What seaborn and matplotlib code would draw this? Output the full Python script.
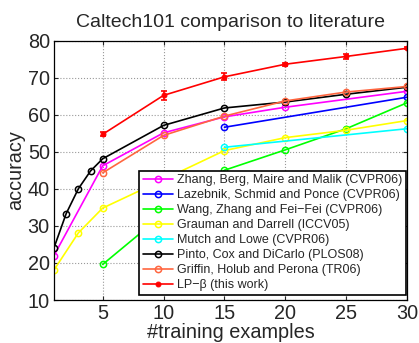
import numpy as np
import pandas as pd
import matplotlib
matplotlib.use('Agg')
import matplotlib.pyplot as plt
import seaborn as sns

# values
zhang_x = [1, 5, 10, 15, 20, 30]
zhang_y = [22.0, 46.2, 55.1, 59.4, 62.0, 66.3]

lazebnik_x = [15, 30]
lazebnik_y = [56.6, 64.7]

wang_x = [5, 10, 15, 20, 25, 30]
wang_y = [19.6, 33.2, 45.0, 50.5, 56.2, 63.2]

grauman_x = [1, 3, 5, 10, 15, 20, 25, 30]
grauman_y = [18.1, 28.1, 34.8, 42.5, 50.3, 53.8, 55.8, 58.4]

mutch_x = [15, 30]
mutch_y = [51.2, 56.2]

pinto_x = [1, 2, 3, 4, 5, 10, 15, 20, 25, 30]
pinto_y = [24.1, 33.3, 40.0, 44.8, 48.1, 57.1, 61.8, 63.4, 65.5, 67.4]

griffin_x = [5, 10, 15, 20, 25, 30]
griffin_y = [44.3, 54.4, 59.6, 63.7, 66.1, 67.6]

lp_x = [5, 10, 15, 20, 25, 30]
lp_y = [54.7, 65.2, 70.2, 73.6, 75.7, 77.9]
lp_err = [0.5, 1.2, 0.9, 0.4, 0.6, 0.3]

series = [
    ('Zhang, Berg, Maire and Malik (CVPR06)', zhang_x, zhang_y, (1, 0, 1)),
    ('Lazebnik, Schmid and Ponce (CVPR06)', lazebnik_x, lazebnik_y, (0, 0, 1)),
    ('Wang, Zhang and Fei\u2212Fei (CVPR06)', wang_x, wang_y, (0, 1, 0)),
    ('Grauman and Darrell (ICCV05)', grauman_x, grauman_y, (1, 1, 0)),
    ('Mutch and Lowe (CVPR06)', mutch_x, mutch_y, (0, 1, 1)),
    ('Pinto, Cox and DiCarlo (PLOS08)', pinto_x, pinto_y, (0, 0, 0)),
    ('Griffin, Holub and Perona (TR06)', griffin_x, griffin_y, (1, 0.4, 0.25)),
]

sns.set_style('ticks')
plt.rcParams['font.family'] = ['Liberation Sans', 'DejaVu Sans']
plt.rcParams['xtick.direction'] = 'in'
plt.rcParams['ytick.direction'] = 'in'

fig = plt.figure(figsize=(4.19, 3.43), dpi=100)
ax = fig.add_axes([54 / 419, 1 - 300 / 343, 353 / 419, 259.5 / 343])

for name, xs, ys, col in series:
    df = pd.DataFrame({'x': xs, 'y': ys})
    sns.lineplot(data=df, x='x', y='y', ax=ax, color=col, lw=1.2,
                 marker='o', markersize=4.5, markerfacecolor='none',
                 markeredgecolor=col, markeredgewidth=1.1, label=name,
                 errorbar=None)

lp = pd.DataFrame({'x': lp_x, 'y': lp_y})
sns.lineplot(data=lp, x='x', y='y', ax=ax, color='red', lw=1.2,
             marker='.', markersize=7, markeredgecolor='red',
             label='LP\u2212\u03b2 (this work)', errorbar=None)
ax.errorbar(lp_x, lp_y, yerr=lp_err, fmt='none', ecolor='red',
            elinewidth=1.2, capsize=2.5, capthick=1.2)

ax.set_xlim(1, 30)
ax.set_ylim(10, 80)
ax.set_xticks([5, 10, 15, 20, 25, 30])
ax.set_yticks(np.arange(10, 81, 10))
ax.grid(True, ls=':', color='#999999', lw=0.8)
ax.tick_params(labelsize=14.3, top=True, right=True, length=3, width=0.8,
               pad=3)
for s in ax.spines.values():
    s.set_color('black')
    s.set_linewidth(0.9)

ax.set_xlabel('#training examples', fontsize=14.3, labelpad=0)
ax.set_ylabel('accuracy', fontsize=14.3, labelpad=2)
ax.set_title('Caltech101 comparison to literature', fontsize=14, pad=10)

leg = ax.legend(loc='lower right', bbox_to_anchor=(0.997, 0.019),
                borderaxespad=0, fontsize=9, fancybox=False, framealpha=1,
                edgecolor='black', handlelength=2.4, handletextpad=0.3,
                labelspacing=0.24, borderpad=0.3, numpoints=1)
leg.get_frame().set_linewidth(1.2)

fig.savefig('out.png', dpi=100)
